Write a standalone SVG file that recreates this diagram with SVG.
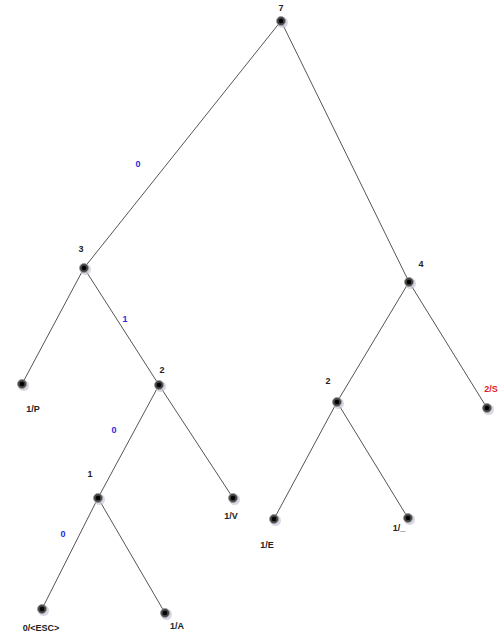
<svg xmlns="http://www.w3.org/2000/svg" width="504" height="641" viewBox="0 0 504 641">
<defs>
<style>
.edge{stroke:#555;stroke-width:1;fill:none}
.ring{fill:#444;stroke:#999;stroke-width:0.8}
.core{fill:#000}
.shadow{fill:#c8c8d8;opacity:0.7}
.lbl{font-family:"Liberation Sans",Arial,sans-serif;font-size:9px;font-weight:bold;fill:#222;text-anchor:middle}
.elbl{font-family:"Liberation Sans",Arial,sans-serif;font-size:9px;font-weight:bold;fill:#2a2ae0;text-anchor:middle}
.red{fill:#e02020}
</style>
<g id="dot"><circle class="shadow" cx="1.5" cy="1.5" r="5.5"/><circle class="ring" cx="0" cy="0" r="4.5"/><circle class="core" cx="0" cy="0" r="2.3"/></g>
</defs>
<rect width="504" height="641" fill="#fff"/>
<g id="connectors">
<line class="edge" x1="281" y1="21" x2="84" y2="268"/>
<line class="edge" x1="281" y1="21" x2="409" y2="282"/>
<line class="edge" x1="84" y1="268" x2="22" y2="384"/>
<line class="edge" x1="84" y1="268" x2="159" y2="385"/>
<line class="edge" x1="159" y1="385" x2="98" y2="498"/>
<line class="edge" x1="159" y1="385" x2="233" y2="498"/>
<line class="edge" x1="98" y1="498" x2="42" y2="609"/>
<line class="edge" x1="98" y1="498" x2="165" y2="613"/>
<line class="edge" x1="409" y1="282" x2="337" y2="402"/>
<line class="edge" x1="409" y1="282" x2="487" y2="408"/>
<line class="edge" x1="337" y1="402" x2="274" y2="519"/>
<line class="edge" x1="337" y1="402" x2="408" y2="518"/>
<text class="elbl" x="138" y="167">0</text>
<text class="elbl" x="125" y="322">1</text>
<text class="elbl" x="114" y="433">0</text>
<text class="elbl" x="63" y="537">0</text>
</g>
<g id="n7"><use href="#dot" x="281" y="21"/><text class="lbl" x="281" y="11">7</text></g>
<g id="n3"><use href="#dot" x="84" y="268"/><text class="lbl" x="81" y="252">3</text></g>
<g id="n4"><use href="#dot" x="409" y="282"/><text class="lbl" x="421" y="267">4</text></g>
<g id="n1P"><use href="#dot" x="22" y="384"/><text class="lbl" x="33" y="412">1/P</text></g>
<g id="n2a"><use href="#dot" x="159" y="385"/><text class="lbl" x="162" y="373">2</text></g>
<g id="n2S"><use href="#dot" x="487" y="408"/><text class="lbl red" x="491" y="392">2/S</text></g>
<g id="n2b"><use href="#dot" x="337" y="402"/><text class="lbl" x="328" y="384">2</text></g>
<g id="n1"><use href="#dot" x="98" y="498"/><text class="lbl" x="90" y="477">1</text></g>
<g id="n1V"><use href="#dot" x="233" y="498"/><text class="lbl" x="231" y="519">1/V</text></g>
<g id="n1E"><use href="#dot" x="274" y="519"/><text class="lbl" x="267" y="548">1/E</text></g>
<g id="n1_"><use href="#dot" x="408" y="518"/><text class="lbl" x="399" y="531">1/_</text></g>
<g id="nESC"><use href="#dot" x="42" y="609"/><text class="lbl" x="41" y="631">0/&lt;ESC&gt;</text></g>
<g id="n1A"><use href="#dot" x="165" y="613"/><text class="lbl" x="177" y="629">1/A</text></g>
</svg>
